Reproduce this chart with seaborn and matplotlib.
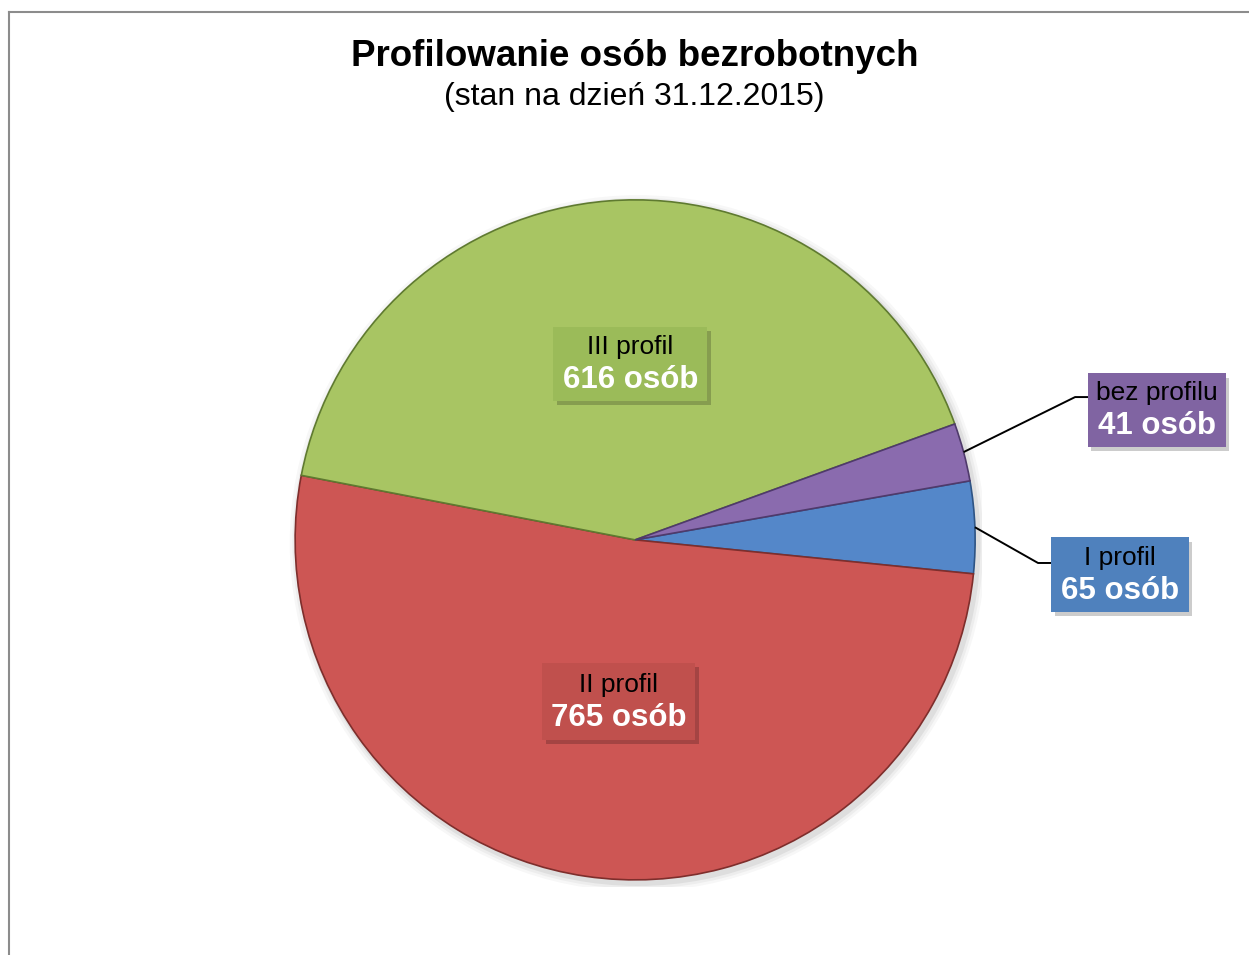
import matplotlib

matplotlib.use("Agg")

import matplotlib.pyplot as plt
import numpy as np
import seaborn as sns
from matplotlib.patches import Rectangle, Wedge

sns.set_theme(style="white")
plt.rcParams["font.family"] = ["Liberation Sans", "DejaVu Sans"]

# data (clockwise order as drawn, starting from the blue slice)
categories = ["I profil", "II profil", "III profil", "bez profilu"]
counts = [65, 765, 616, 41]
value_labels = ["65 osób", "765 osób", "616 osób", "41 osób"]

slice_colors = ["#5487C9", "#CD5654", "#A8C563", "#8A6BAE"]
box_colors = ["#4F81BD", "#C0504D", "#9BBB59", "#8064A2"]
edge_colors = ["#2E5484", "#7E2E2C", "#5F7A30", "#4F3A6B"]

# label layout: inside boxes for big slices, outside with leader lines for small ones
inside = [False, True, True, False]
box_center = {0: (1.426, -0.103), 3: (1.535, 0.382)}
knee = {0: (1.185, -0.068), 3: (1.294, 0.420)}
box_size = {0: (0.405, 0.22), 1: (0.45, 0.225), 2: (0.453, 0.22), 3: (0.406, 0.215)}

fig = plt.figure(figsize=(12.49, 9.55), dpi=100)

# frame of the chart area
frame = fig.add_axes([0.0072, -0.05, 1.2, 1.037])
frame.set_xticks([])
frame.set_yticks([])
for s in frame.spines.values():
    s.set_color("#8c8c8c")
    s.set_linewidth(1.5)
frame.patch.set_alpha(0)

ax = fig.add_axes([295 / 1249, 75 / 955, 680 / 1249, 680 / 955])

# soft shadow behind the pie
for i, a in enumerate([0.06, 0.04, 0.03]):
    ax.add_patch(Wedge((0.008, -0.01), 1.0 + 0.008 * (i + 1), 0, 360,
                       color="black", alpha=a, lw=0))

wedges, _ = ax.pie(
    counts,
    colors=slice_colors,
    startangle=10,
    counterclock=False,
    radius=1.0,
    wedgeprops=dict(linewidth=1.2),
)
for w, ec in zip(wedges, edge_colors):
    w.set_edgecolor(ec)

for i, w in enumerate(wedges):
    mid = np.deg2rad((w.theta1 + w.theta2) / 2)
    if inside[i]:
        cx, cy = 0.5 * np.cos(mid) + 0.025, 0.5 * np.sin(mid) + 0.019
    else:
        cx, cy = box_center[i]
        ex, ey = 1.0 * np.cos(mid), 1.0 * np.sin(mid)
        kx, ky = knee[i]
        bw = box_size[i][0]
        ax.plot([ex, kx, cx - bw / 2], [ey, ky, ky], color="black", lw=1.4,
                solid_capstyle="butt", zorder=4, clip_on=False)
    bw, bh = box_size[i]
    ax.add_patch(Rectangle((cx - bw / 2 + 0.01, cy - bh / 2 - 0.012), bw, bh,
                           facecolor="black", alpha=0.2, lw=0, zorder=4,
                           clip_on=False))
    ax.add_patch(Rectangle((cx - bw / 2, cy - bh / 2), bw, bh,
                           facecolor=box_colors[i], lw=0, zorder=5, clip_on=False))
    ax.text(cx, cy + 0.05, categories[i], ha="center", va="center",
            fontsize=19, color="black", zorder=6, clip_on=False)
    ax.text(cx, cy - 0.048, value_labels[i], ha="center", va="center",
            fontsize=22.5, fontweight="bold", color="white", zorder=6, clip_on=False)

ax.set_xlim(-1.02, 1.02)
ax.set_ylim(-1.02, 1.02)
ax.set_aspect("equal")
ax.axis("off")
ax.set_position([295 / 1249 - 0.02 / 2.04 * 680 / 1249, 75 / 955 - 0.02 / 2.04 * 680 / 955,
                 680 / 1249 * 2.04 / 2, 680 / 955 * 2.04 / 2])

fig.text(0.508, 0.941, "Profilowanie osób bezrobotnych", ha="center", va="center",
         fontsize=26.5, fontweight="bold", color="black")
fig.text(0.508, 0.898, "(stan na dzień 31.12.2015)", ha="center", va="center",
         fontsize=23, color="black")

fig.savefig("out.png", dpi=100)
